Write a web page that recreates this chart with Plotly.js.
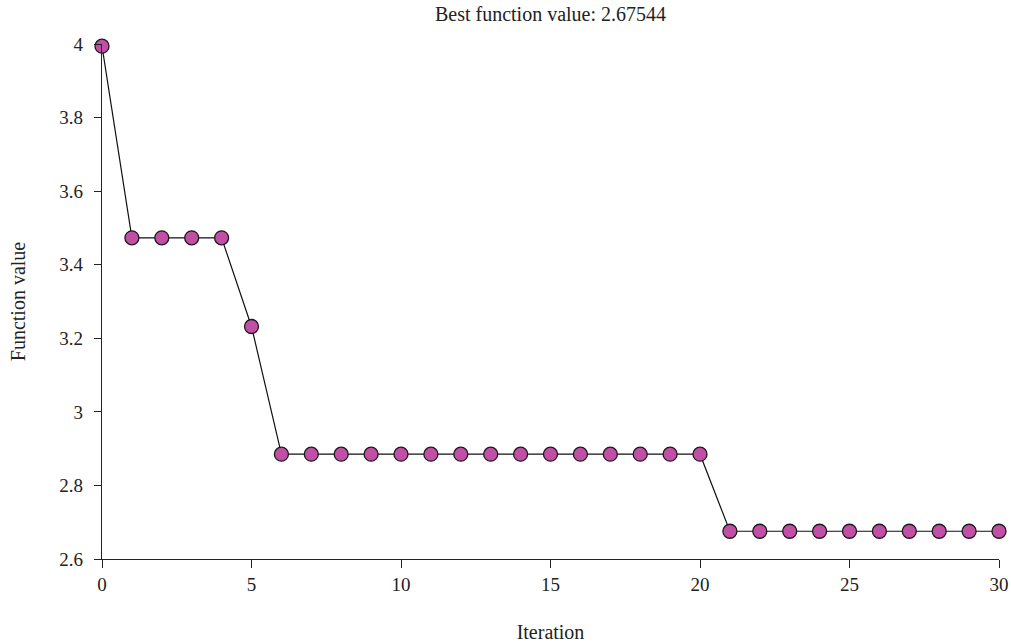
<!DOCTYPE html>
<html>
<head>
<meta charset="utf-8">
<script src="https://cdn.plot.ly/plotly-3.0.1.min.js"></script>
<style>html,body{margin:0;padding:0;background:#fff;}#chart{width:1011px;height:644px;}</style>
</head>
<body>
<div id="chart"></div>
<script>
// Best objective value found at each optimisation iteration
const iterations = [0,1,2,3,4,5,6,7,8,9,10,11,12,13,14,15,16,17,18,19,20,21,22,23,24,25,26,27,28,29,30];
const bestValues = [3.994,3.473,3.473,3.473,3.473,3.232,2.885,2.885,2.885,2.885,2.885,2.885,2.885,2.885,2.885,2.885,2.885,2.885,2.885,2.885,2.885,2.67544,2.67544,2.67544,2.67544,2.67544,2.67544,2.67544,2.67544,2.67544,2.67544];
const xTicks = [0,5,10,15,20,25,30];
const yTicks = [2.6,2.8,3,3.2,3.4,3.6,3.8,4];
const bestValue = 2.67544;

const fontFam = 'Liberation Serif, DejaVu Serif, serif';
const ink = '#222';

const trace = {
  x: iterations,
  y: bestValues,
  type: 'scatter',
  mode: 'lines+markers',
  cliponaxis: false,
  line: {color: '#111', width: 1.2},
  marker: {size: 14, color: '#c24fa6', line: {color: '#1a1a1a', width: 1.3}},
  hoverinfo: 'x+y'
};

const layout = {
  width: 1011, height: 644,
  margin: {l: 102, r: 12, t: 44, b: 85},
  paper_bgcolor: '#fff', plot_bgcolor: '#fff',
  showlegend: false,
  font: {family: fontFam, size: 19, color: ink},
  title: {text: 'Best function value: ' + bestValue, x: 0.5, xref: 'paper', y: 0.978, yanchor: 'middle', font: {family: fontFam, size: 20, color: ink}},
  xaxis: {
    range: [0, 30], tickvals: xTicks, ticktext: xTicks.map(String),
    showgrid: false, zeroline: false, showline: true, linecolor: ink, linewidth: 1.4,
    ticks: 'outside', ticklen: 8, tickwidth: 1.4, tickcolor: ink,
    tickfont: {family: fontFam, size: 19, color: ink},
    title: {text: 'Iteration', standoff: 30, font: {family: fontFam, size: 20, color: ink}}
  },
  yaxis: {
    range: [2.6, 4], tickvals: yTicks, ticktext: yTicks.map(String),
    showgrid: false, zeroline: false, showline: true, linecolor: ink, linewidth: 1.4,
    ticks: 'outside', ticklen: 7, tickwidth: 1.4, tickcolor: ink,
    ticklabelstandoff: 7,
    tickfont: {family: fontFam, size: 19, color: ink},
    title: {text: 'Function value', standoff: 28, font: {family: fontFam, size: 20, color: ink}}
  }
};

Plotly.newPlot('chart', [trace], layout, {displayModeBar: false});
</script>
</body>
</html>
